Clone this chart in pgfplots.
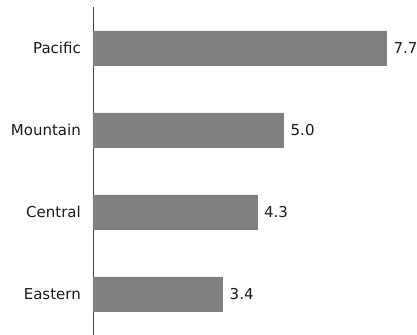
\documentclass[border=0pt]{standalone}
\usepackage{pgfplots}
\pgfplotsset{compat=1.18}
\usepackage{fontspec}
\setmainfont{DejaVu Sans}
\definecolor{barcol}{HTML}{808080}
\definecolor{axcol}{HTML}{404040}
\begin{document}
\begin{tikzpicture}
\begin{axis}[
  xbar, scale only axis, width=304.8bp, height=328bp,
  xmin=0, xmax=8, ymin=-0.5, ymax=3.5,
  axis x line=none, axis y line=left,
  y axis line style={-, draw=axcol, line width=0.8bp},
  ytick={0,1,2,3}, yticklabels={Eastern,Central,Mountain,Pacific},
  major tick length=0pt,
  font=\fontsize{15bp}{18bp}\selectfont,
  yticklabel style={inner sep=0pt, xshift=-12bp, text=black!90},
  bar width=34bp,
  /pgf/number format/assume math mode=true,
  nodes near coords={\pgfmathprintnumber[fixed,fixed zerofill,precision=1]{\pgfplotspointmeta}},
  every node near coord/.append style={anchor=west, xshift=7bp, inner sep=0pt, text=black!90},
]
\addplot[fill=barcol, draw=barcol] coordinates {(3.4,0) (4.3,1) (5.0,2) (7.7,3)};
\coordinate (sw) at (rel axis cs:0,0);
\end{axis}
\pgfresetboundingbox
\path (sw) ++(-93bp,0) coordinate (a);
\path (a) rectangle ++(417bp,335bp);
\end{tikzpicture}
\end{document}
